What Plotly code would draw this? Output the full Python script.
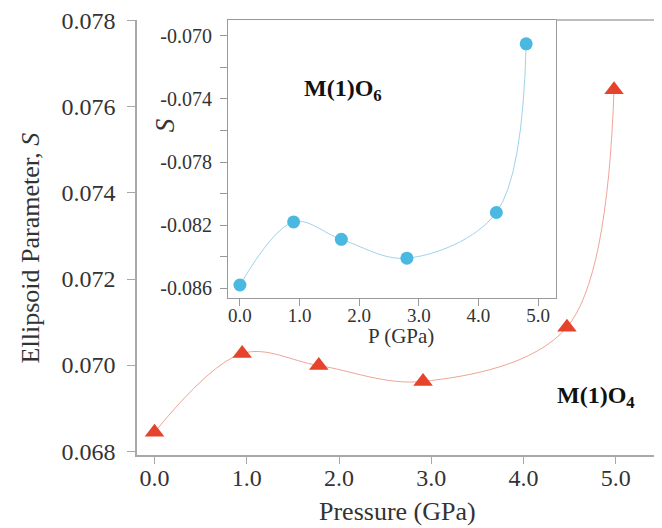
import plotly.graph_objects as go

# Main chart data (M(1)O4)
main_pressure = [0.0, 0.95, 1.78, 2.91, 4.47, 4.98]
main_s = [0.06844, 0.07027, 0.06999, 0.06962, 0.07088, 0.07640]

# Inset data (M(1)O6)
inset_pressure = [0.0, 0.9, 1.7, 2.8, 4.3, 4.8]
inset_s = [-0.0858, -0.0818, -0.0829, -0.0841, -0.0812, -0.0705]

main_xticks = [0, 1, 2, 3, 4, 5]
main_yticks = [0.068, 0.070, 0.072, 0.074, 0.076, 0.078]
inset_yticks = [-0.086, -0.084, -0.082, -0.080, -0.078, -0.076, -0.074, -0.072, -0.070]
inset_ytext = ["-0.086", "", "-0.082", "", "-0.078", "", "-0.074", "", "-0.070"]

FONT = "Liberation Serif, Times New Roman, Times, serif"
AX = "#a8a8a8"
AX2 = "#999999"
TXT = "#333333"

MAIN_XR = [-0.19, 5.5]
INSET_XR = [-0.2, 5.3]

fig = go.Figure()

fig.add_trace(go.Scatter(
    x=main_pressure, y=main_s, mode="lines+markers",
    line=dict(color="#f0a496", width=1, shape="spline"),
    marker=dict(symbol="triangle-up", size=17, color="#e5432b"),
    xaxis="x", yaxis="y", showlegend=False))

fig.add_trace(go.Scatter(
    x=inset_pressure, y=inset_s, mode="lines+markers",
    line=dict(color="#9fd3ea", width=1, shape="spline"),
    marker=dict(symbol="circle", size=13, color="#4ab8e0"),
    xaxis="x2", yaxis="y2", showlegend=False))

# invisible helper traces so the tick-mark-only axes are active
fig.add_trace(go.Scatter(x=[main_pressure[0]], y=[main_s[0]], mode="markers",
                         marker=dict(opacity=0), xaxis="x3", yaxis="y",
                         showlegend=False, hoverinfo="skip"))
fig.add_trace(go.Scatter(x=[inset_pressure[0]], y=[inset_s[0]], mode="markers",
                         marker=dict(opacity=0), xaxis="x4", yaxis="y2",
                         showlegend=False, hoverinfo="skip"))

x2d = [(228 - 137) / 525, (556 - 137) / 525]
y2d = [(455 - 297) / 438, 1.0]

fig.update_layout(
    width=654, height=520,
    margin=dict(l=129, r=0, t=9, b=73),
    paper_bgcolor="white", plot_bgcolor="white",
    font=dict(family=FONT, color=TXT),
    xaxis=dict(domain=[0, 1], range=MAIN_XR, tickvals=main_xticks,
               tickformat=".1f", ticks="",
               showline=True, linecolor=AX, linewidth=1.5, showgrid=False,
               zeroline=False, tickfont=dict(size=24, family=FONT, color=TXT)),
    xaxis3=dict(domain=[0, 1], range=MAIN_XR, tickvals=main_xticks, overlaying="x",
                anchor="y", side="bottom", ticks="outside", ticklen=8, tickcolor=AX,
                showticklabels=False, showline=False, showgrid=False, zeroline=False),
    yaxis=dict(domain=[0, 1], range=[0.06791, 0.07802], tickvals=main_yticks,
               tickformat=".3f", ticks="outside", ticklen=8, tickcolor=AX,
               ticklabelstandoff=7, ticklabeloverflow="allow",
               showline=True, linecolor=AX, linewidth=1.5, showgrid=False,
               zeroline=False, tickfont=dict(size=24, family=FONT, color=TXT)),
    xaxis2=dict(domain=x2d, anchor="y2", range=INSET_XR, tickvals=main_xticks,
                tickformat=".1f", ticks="",
                showline=True, linecolor=AX2, linewidth=1.2, mirror=True,
                showgrid=False, zeroline=False,
                tickfont=dict(size=19, family=FONT, color=TXT)),
    xaxis4=dict(domain=x2d, anchor="y2", range=INSET_XR, tickvals=main_xticks,
                overlaying="x2", side="bottom", ticks="outside", ticklen=7,
                tickcolor=AX2, showticklabels=False, showline=False,
                showgrid=False, zeroline=False),
    yaxis2=dict(domain=y2d, anchor="x2", range=[-0.08663, -0.06899],
                tickvals=inset_yticks, ticktext=inset_ytext,
                ticks="outside", ticklen=7, tickcolor=AX2, ticklabelstandoff=4,
                showline=True, linecolor=AX2, linewidth=1.2, mirror=True,
                showgrid=False, zeroline=False,
                tickfont=dict(size=20, family=FONT, color=TXT)),
)

fig.add_shape(type="line", xref="paper", yref="paper",
              x0=x2d[1], x1=1, y0=1, y1=1,
              line=dict(color=AX, width=1.5))

ann = [
    dict(text="Ellipsoid Parameter, <i>S</i>", x=(30 - 137) / 525, y=(455 - 247) / 438,
         textangle=-90, font=dict(size=26)),
    dict(text="Pressure (GPa)", x=(397 - 137) / 525, y=(455 - 512) / 438,
         font=dict(size=26)),
    dict(text="<i>S</i>", x=(165 - 137) / 525, y=(455 - 123) / 438,
         textangle=-90, font=dict(size=27)),
    dict(text="P (GPa)", x=(401 - 137) / 525, y=(455 - 335) / 438,
         font=dict(size=21)),
    dict(text="<b>M(1)O<sub>6</sub></b>", x=(302 - 137) / 525, y=(455 - 87) / 438,
         xanchor="left", font=dict(size=24, color="#111111")),
    dict(text="<b>M(1)O<sub>4</sub></b>", x=(555 - 137) / 525, y=(455 - 397) / 438,
         xanchor="left", font=dict(size=24, color="#111111")),
]
for a in ann:
    a.setdefault("xanchor", "center")
    a["font"]["family"] = FONT
    fig.add_annotation(xref="paper", yref="paper", showarrow=False,
                       yanchor="middle", **a)

fig.write_html("out.html")
